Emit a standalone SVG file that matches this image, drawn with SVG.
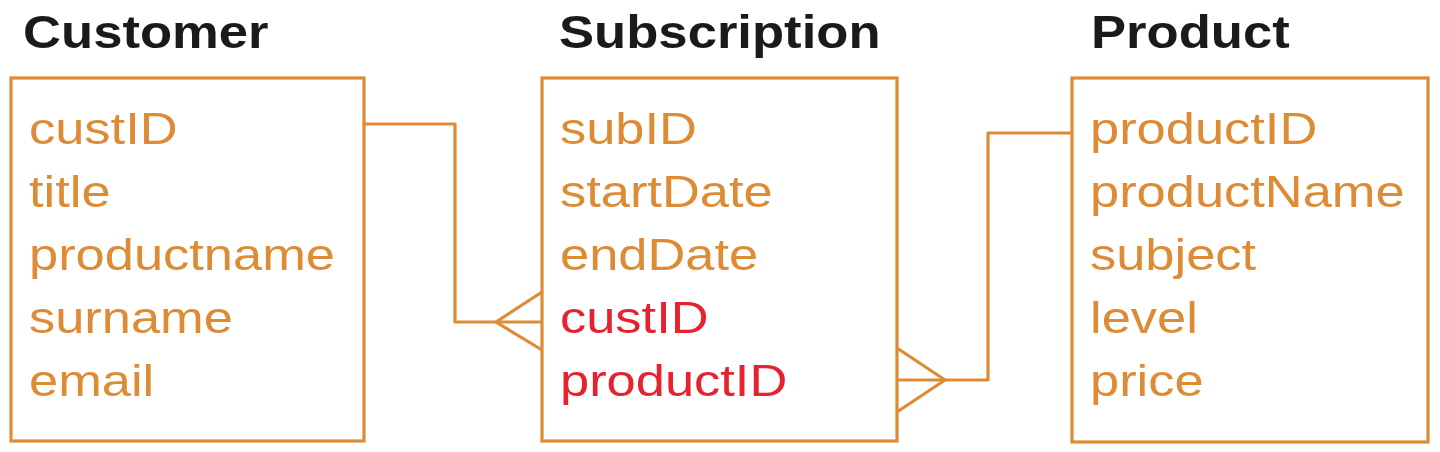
<svg xmlns="http://www.w3.org/2000/svg" width="1440" height="452" viewBox="0 0 1440 452">
<style>
.box{fill:#fff;stroke:#DE8B35;stroke-width:3.2}
.hdr{font-family:"Liberation Sans",Arial,sans-serif;font-weight:bold;font-size:47px;fill:#1a1a1a}
.att{font-family:"Liberation Sans",Arial,sans-serif;font-size:45px;fill:#DE8B35}
.fk{fill:#E8212F}
.con{fill:none;stroke:#DE8B35;stroke-width:3.2;stroke-linejoin:round}
</style>
<rect width="1440" height="452" fill="#fff"/>
<g id="customer">
<g transform="translate(23,48) scale(1.12,1)"><text class="hdr">Customer</text></g>
<rect class="box" x="11" y="78" width="353" height="363"/>
<g transform="translate(29,0) scale(1.165,1)">
<text class="att" y="144">custID</text>
<text class="att" y="207">title</text>
<text class="att" y="270">productname</text>
<text class="att" y="333">surname</text>
<text class="att" y="396">email</text>
</g>
</g>
<g id="subscription">
<g transform="translate(559,48) scale(1.12,1)"><text class="hdr">Subscription</text></g>
<rect class="box" x="542" y="78" width="355" height="363"/>
<g transform="translate(560,0) scale(1.165,1)">
<text class="att" y="144">subID</text>
<text class="att" y="207">startDate</text>
<text class="att" y="270">endDate</text>
<text class="att fk" y="333">custID</text>
<text class="att fk" y="396">productID</text>
</g>
</g>
<g id="product">
<g transform="translate(1091,48) scale(1.12,1)"><text class="hdr">Product</text></g>
<rect class="box" x="1072" y="78" width="356" height="364"/>
<g transform="translate(1090,0) scale(1.165,1)">
<text class="att" y="144">productID</text>
<text class="att" y="207">productName</text>
<text class="att" y="270">subject</text>
<text class="att" y="333">level</text>
<text class="att" y="396">price</text>
</g>
</g>
<g id="connectors">
<path class="con" d="M364,124 H455 V322 H542"/>
<path class="con" d="M542,292 L496,322 L542,350"/>
<path class="con" d="M1072,133 H988 V380 H897"/>
<path class="con" d="M897,348 L945,380 L897,412"/>
</g>
</svg>
